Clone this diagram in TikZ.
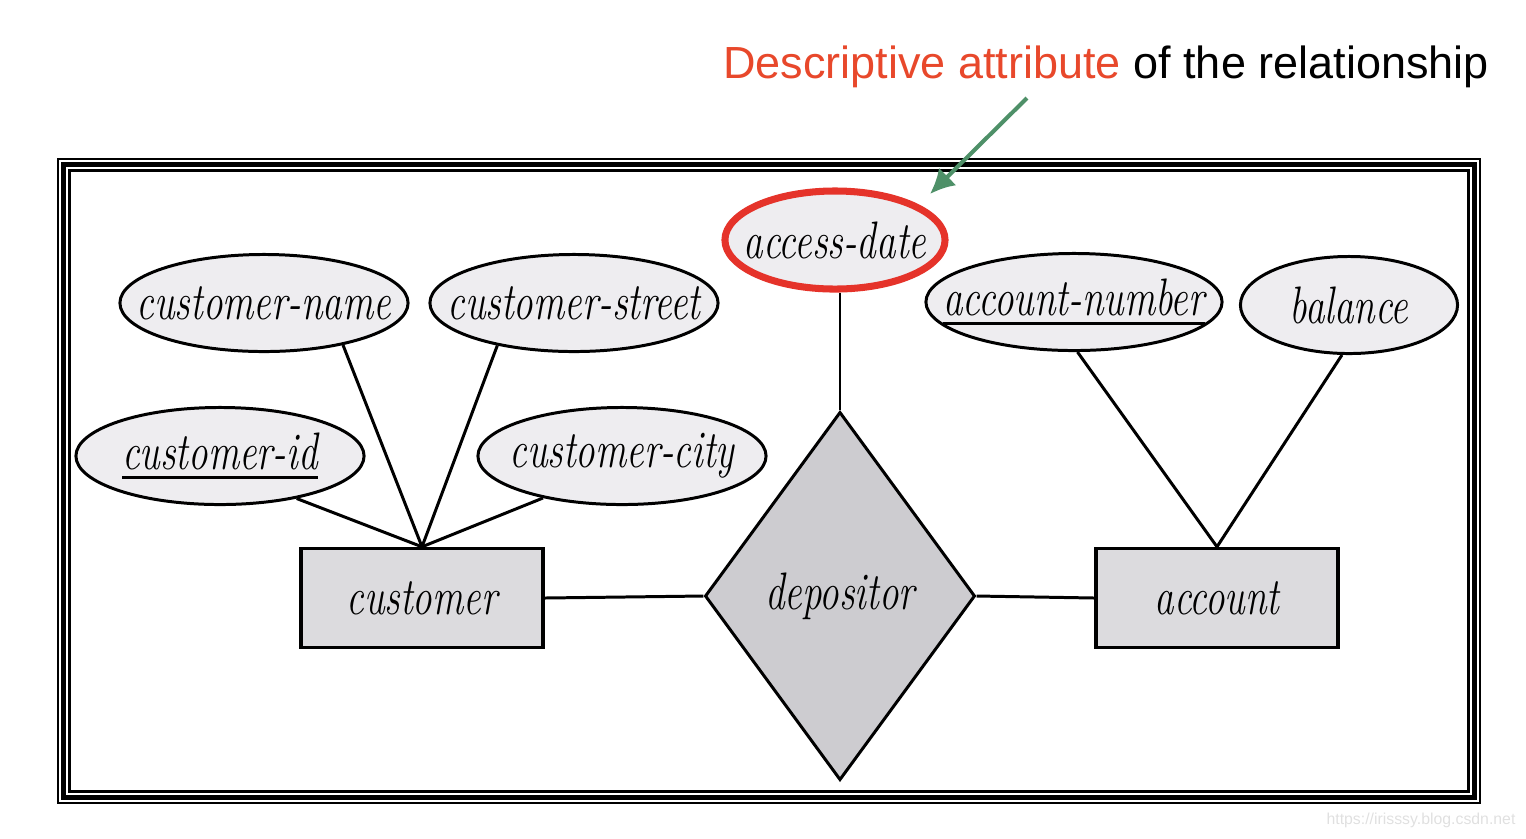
\documentclass[tikz,border=0pt]{standalone}
\usepackage{graphicx}
\usepackage{fontspec}
\newfontfamily\headfont{Liberation Sans}
\usetikzlibrary{shapes.geometric, arrows.meta}

\definecolor{attrfill}{HTML}{EEEDF0}
\definecolor{entfill}{HTML}{DCDBDE}
\definecolor{relfill}{HTML}{CDCCD0}
\definecolor{markred}{HTML}{E5332A}
\definecolor{headred}{HTML}{E8482B}
\definecolor{arrowgreen}{HTML}{4E9068}

% squeezed italic labels, zero width so the shape keeps its own size
\newcommand{\erlabel}[1]{\makebox[0pt]{\scalebox{0.74}[1]{\itshape #1}}}
% thick underline for key attributes
\newcommand{\keyline}[1]{\setbox0\hbox{#1}\rlap{\rule[-2.6pt]{\wd0}{0.95pt}}\box0}

\begin{document}
\begin{tikzpicture}[x=0.01cm, y=-0.01cm,
    attr/.style={ellipse, draw, line width=0.85pt, fill=attrfill, inner sep=0pt,
      minimum height=0.97cm, font=\fontsize{15}{17}\selectfont},
    entity/.style={rectangle, draw, line width=0.95pt, fill=entfill, inner sep=0pt,
      minimum width=2.42cm, minimum height=0.99cm, font=\fontsize{15}{17}\selectfont},
    rel/.style={diamond, draw, line width=0.85pt, fill=relfill, inner sep=0pt, aspect=0.73,
      minimum width=2.70cm, minimum height=3.68cm, font=\fontsize{15}{17}\selectfont},
    link/.style={line width=0.85pt}]
  \useasboundingbox (0,0) rectangle (1526,838);

  % frame
  \draw[line width=0.14cm] (64,165) rectangle (1474,797);
  \draw[white, line width=0.012cm] (60,161) rectangle (1478,801);
  \draw[white, line width=0.012cm] (67,168) rectangle (1471,794);

  % entities and relationship
  \node[entity] (cust) at (422,598) {\erlabel{customer}};
  \node[entity] (acc) at (1217,598) {\erlabel{account}};
  \node[rel] (dep) at (840,596) {\erlabel{depositor}};

  % attributes
  \node[attr, minimum width=2.88cm] (cname) at (264,303) {\erlabel{customer-name}};
  \node[attr, minimum width=2.88cm] (cstreet) at (574,303) {\erlabel{customer-street}};
  \node[attr, minimum width=2.88cm] (cid) at (220,456) {\erlabel{\keyline{customer-id}}};
  \node[attr, minimum width=2.88cm] (ccity) at (622,456) {\erlabel{customer-city}};
  \node[attr, minimum width=2.96cm] (accnum) at (1074,302) {\erlabel{\keyline{account-number}}};
  \node[attr, minimum width=2.17cm] (bal) at (1349,305) {\erlabel{balance}};
  \node[attr, draw=markred, line width=2pt, minimum width=2.20cm, minimum height=0.98cm]
    (adate) at (835,240) {\erlabel{access-date}};

  \draw[link] (cname.-28) -- (cust.north);
  \draw[link] (cstreet.-151) -- (cust.north);
  \draw[link] (cid.-29) -- (cust.north);
  \draw[link] (ccity.-152) -- (cust.north);
  \draw[link] (accnum.-86) -- (acc.north);
  \draw[link] (bal.-98) -- (acc.north);
  \draw[link] (dep.north |- adate.south) -- (dep.north);
  \draw[link] (cust.east) -- (dep.west);
  \draw[link] (dep.east) -- (acc.west);

  % note
  \node[font=\headfont\fontsize{12.8}{15}\selectfont, inner sep=0pt] (note) at (1106,67)
    {\textcolor{headred}{Descriptive attribute} of the relationship};
  \coordinate (tail) at (1027,98);
  \coordinate (tip) at (930,194);
  \draw[arrowgreen, line width=1.15pt, -{Latex[length=7pt,width=7pt]}] (tail) -- (tip);

  \node[font=\headfont\fontsize{4.5}{5}\selectfont, text=black!12, inner sep=0pt] (mark) at (1421,820)
    {https://irisssy.blog.csdn.net};
\end{tikzpicture}
\end{document}
